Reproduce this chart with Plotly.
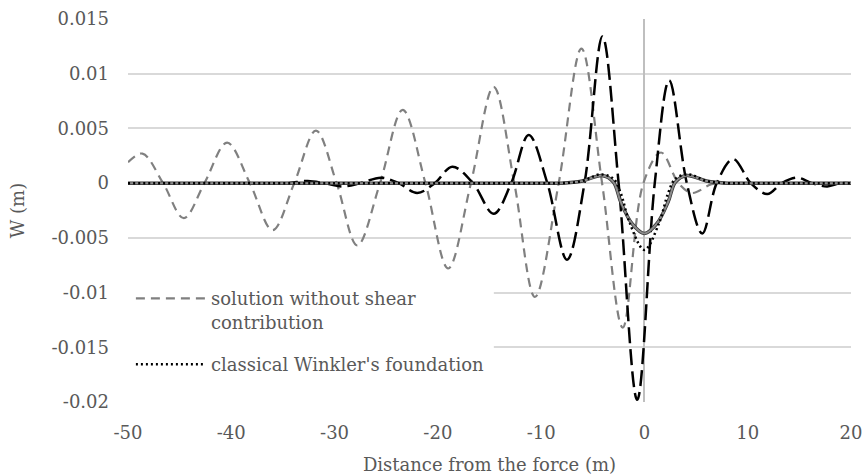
import plotly.graph_objects as go

# ---- data ----
# solution without shear contribution (gray dashed)
x_noshear = [-50, -48.6, -46.6, -44.6, -42.6, -40.4, -38.2, -36.0, -33.9, -31.8, -29.8, -27.8,
             -25.6, -23.4, -21.2, -19.0, -16.8, -14.6, -12.6, -10.6, -8.3, -6.1, -4.1, -2.1,
             -0.1, 1.6, 3.3, 4.6, 6.5, 8.0, 12.0, 16.0, 20.0]
w_noshear = [0.0019, 0.0027, 0.0, -0.0032, 0.0, 0.0037, 0.0, -0.0043, 0.0, 0.0048, 0.0, -0.0057,
             0.0, 0.0067, 0.0, -0.0078, 0.0, 0.0088, 0.0, -0.0104, 0.0, 0.0123, 0.0, -0.0132,
             0.0, 0.0028, 0.0, -0.0009, -0.0001, 0.0, 0.0, 0.0, 0.0]

# long-dashed black series
x_long = [-50, -42, -36, -34.5, -32.6, -31.0, -29.2, -27.5, -25.5, -23.8, -22.0, -20.3, -18.6,
          -16.6, -14.6, -12.9, -11.2, -9.4, -7.5, -5.8, -4.07, -2.5, -0.7, 1.0, 2.4, 4.1, 5.6,
          7.0, 8.6, 10.3, 11.9, 13.3, 14.8, 16.2, 17.7, 19.0, 20.0]
w_long = [0.0, 0.0, 0.0, 0.0, 0.0002, 0.0, -0.0003, 0.0, 0.0005, 0.0, -0.0009, 0.0, 0.0015,
          0.0, -0.0028, 0.0, 0.0044, 0.0, -0.0070, 0.0, 0.0134, 0.0, -0.0198, 0.0, 0.0094, 0.0, -0.0046,
          0.0, 0.0022, 0.0, -0.0010, 0.0, 0.0005, 0.0, -0.0003, 0.0, 0.0]

# classical Winkler's foundation (black dotted)
x_winkler = [-50, -30, -10, -8.0, -6.0, -4.3, -3.0, -2.3, -1.4, 0.0, 1.4, 2.3, 3.0, 4.3, 6.0, 8.0, 10, 20]
w_winkler = [0.0, 0.0, 0.0, 0.0, 0.0002, 0.0008, 0.0004, -0.0009, -0.0037, -0.0061, -0.0037, -0.0009,
             0.0004, 0.0008, 0.0002, 0.0, 0.0, 0.0]

# solid series
x_solid = [-50, -30, -10, -8.0, -6.0, -4.1, -3.0, -2.3, -1.2, 0.0, 1.2, 2.3, 3.0, 4.1, 6.0, 8.0, 10, 20]
w_solid = [0.0, 0.0, 0.0, 0.0, 0.0002, 0.0007, 0.0001, -0.0017, -0.0037, -0.0046, -0.0037, -0.0017,
           0.0001, 0.0007, 0.0002, 0.0, 0.0, 0.0]

x_ticks = [-50, -40, -30, -20, -10, 0, 10, 20]
x_ticktext = ["-50", "-40", "-30", "-20", "-10", "0", "10", "20"]
y_ticks = [0.015, 0.01, 0.005, 0, -0.005, -0.01, -0.015, -0.02]
y_ticktext = ["0.015", "0.01", "0.005", "0", "-0.005", "-0.01", "-0.015", "-0.02"]

FONT = "DejaVu Serif"
TXT = "#595959"
FS = 18

fig = go.Figure()
fig.add_trace(go.Scatter(x=x_noshear, y=w_noshear, mode="lines",
                         name="solution without shear<br>contribution", legendgroup="a",
                         line=dict(color="#808080", width=2.2, dash="9px,6px", shape="spline", smoothing=1.0)))
fig.add_trace(go.Scatter(x=x_long, y=w_long, mode="lines", showlegend=False,
                         line=dict(color="black", width=2.5, dash="16px,6px", shape="spline", smoothing=1.0)))
fig.add_trace(go.Scatter(x=x_solid, y=w_solid, mode="lines", showlegend=False,
                         line=dict(color="#333333", width=3.5, shape="spline", smoothing=1.0)))
fig.add_trace(go.Scatter(x=x_solid, y=w_solid, mode="lines", showlegend=False,
                         line=dict(color="#8c8c8c", width=2, shape="spline", smoothing=1.0)))
fig.add_trace(go.Scatter(x=x_winkler, y=w_winkler, mode="lines",
                         name="classical Winkler's foundation", legendgroup="b",
                         line=dict(color="black", width=2.5, dash="2px,3px", shape="spline", smoothing=1.0)))

fig.add_shape(type="rect", xref="paper", yref="paper", x0=-0.005, x1=0.506, y0=-0.03, y1=0.33,
              fillcolor="white", line=dict(width=0), layer="above")

fig.update_layout(
    width=864, height=475,
    margin=dict(l=128, r=13, t=19, b=73),
    paper_bgcolor="white", plot_bgcolor="white",
    font=dict(family=FONT, color=TXT, size=FS),
    showlegend=True,
    legend=dict(x=0.004, xanchor="left", y=0.318, yanchor="top", bgcolor="rgba(0,0,0,0)",
                font=dict(family=FONT, size=FS, color=TXT), valign="top",
                itemwidth=70, tracegroupgap=16),
    xaxis=dict(range=[-50, 20], tickvals=x_ticks, ticktext=x_ticktext, showgrid=False,
               zeroline=True, zerolinecolor="#bfbfbf", zerolinewidth=2, automargin=False,
               showline=False, ticks="", ticklabelstandoff=18,
               tickfont=dict(family=FONT, size=FS, color=TXT),
               title=dict(text="Distance from the force (m)", font=dict(family=FONT, size=FS, color=TXT),
                          standoff=20)),
    yaxis=dict(range=[-0.02, 0.015], tickvals=y_ticks, ticktext=y_ticktext,
               showgrid=True, gridcolor="#d9d9d9", gridwidth=1.5, automargin=False,
               zeroline=False, showline=False, ticks="", ticklabelstandoff=18,
               tickfont=dict(family=FONT, size=FS, color=TXT),
               title=dict(text="W (m)", font=dict(family=FONT, size=FS, color=TXT), standoff=22)),
)

fig.write_html("out.html")
